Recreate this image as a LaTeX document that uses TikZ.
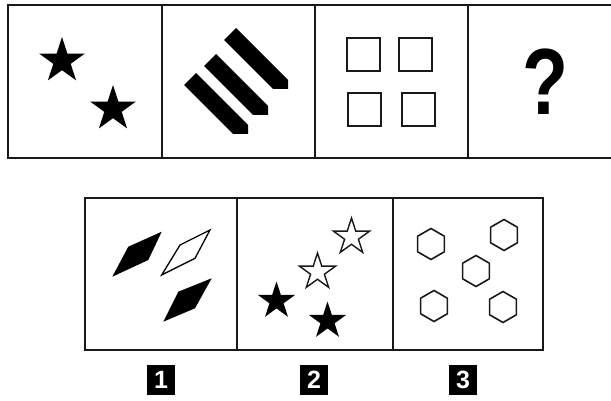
\documentclass[tikz,border=0pt]{standalone}
\usepackage{fontspec}
\setmainfont{Liberation Sans}
\begin{document}
\begin{tikzpicture}[x=1pt,y=-1pt,
  frame/.style={line width=1.8pt, black!90},
  sq/.style={line width=1.8pt, black!90},
  hexline/.style={line width=1.6pt, black!90},
  hstar/.style={line width=1.4pt, black!90, line join=miter},
  lab/.style={fill=black, text=white, minimum width=28pt, minimum height=30pt, inner sep=0pt, font=\bfseries\fontsize{25}{25}\selectfont},
  pics/fstar/.style={code={\fill (-90:#1) \foreach \k in {1,...,9}{ -- ({-90+36*\k}:{#1*(0.691+0.309*cos(180*\k))}) } -- cycle;}},
  pics/ostar/.style={code={\draw[hstar] (-90:#1) \foreach \k in {1,...,9}{ -- ({-90+36*\k}:{#1*(0.691+0.309*cos(180*\k))}) } -- cycle;}},
  pics/hexa/.style={code={\draw[hexline] (-90:15.5) -- (-30:15.5) -- (30:15.5) -- (90:15.5) -- (150:15.5) -- (210:15.5) -- cycle;}},
  pics/bar/.style={code={\fill (196,73) -- (184,85) -- (233,134) -- (248,134) -- (248,125) -- cycle;}}
]
\useasboundingbox (0,0) rectangle (611,401);
\fill[white] (0,0) rectangle (611,401);

% top row frame
\draw[frame] (611,5) -- (8,5) -- (8,158) -- (611,158);
\draw[frame] (162,5) -- (162,158);
\draw[frame] (315,5) -- (315,158);
\draw[frame] (468,5) -- (468,158);

% cell 1: stars
\pic at (62,61) {fstar=24};
\pic at (113,109) {fstar=24};

% cell 2: bars
\pic at (0,0) {bar};
\pic at (20,-19) {bar};
\pic at (40,-45) {bar};

% cell 3: squares
\draw[sq] (347,38) rectangle (380,71);
\draw[sq] (399,38) rectangle (432,71);
\draw[sq] (348,93) rectangle (381,126);
\draw[sq] (402,93) rectangle (435,126);

% cell 4: question mark
\node[inner sep=0pt] (q) at (545,82) {\fontsize{94}{94}\selectfont\bfseries\scalebox{0.8}[1]{?}};

% bottom row frame
\draw[frame] (85,198) rectangle (543,350);
\draw[frame] (237,198) -- (237,350);
\draw[frame] (393,198) -- (393,350);

% option 1: diamonds
\fill (112.3,276.7) -- (128.3,246.7) -- (161.7,231.7) -- (148.3,260) -- cycle;
\draw[line width=1.3pt, line join=miter] (161.7,275) -- (180,245) -- (210,230) -- (195,258.3) -- cycle;
\fill (163.3,321.7) -- (178.3,291.7) -- (211.7,278.3) -- (195,308.3) -- cycle;

% option 2: stars
\pic at (351.5,237) {ostar=19};
\pic at (317.5,272) {ostar=19};
\pic at (276.5,301) {fstar=19.5};
\pic at (327.5,321) {fstar=19.5};

% option 3: hexagons
\pic at (431,244) {hexa};
\pic at (504,235) {hexa};
\pic at (476,271) {hexa};
\pic at (434,306) {hexa};
\pic at (503,307) {hexa};

% labels
\node[lab] (l1) at (161,380) {1};
\node[lab] (l2) at (314,380) {2};
\node[lab] (l3) at (463,380) {3};
\end{tikzpicture}
\end{document}
